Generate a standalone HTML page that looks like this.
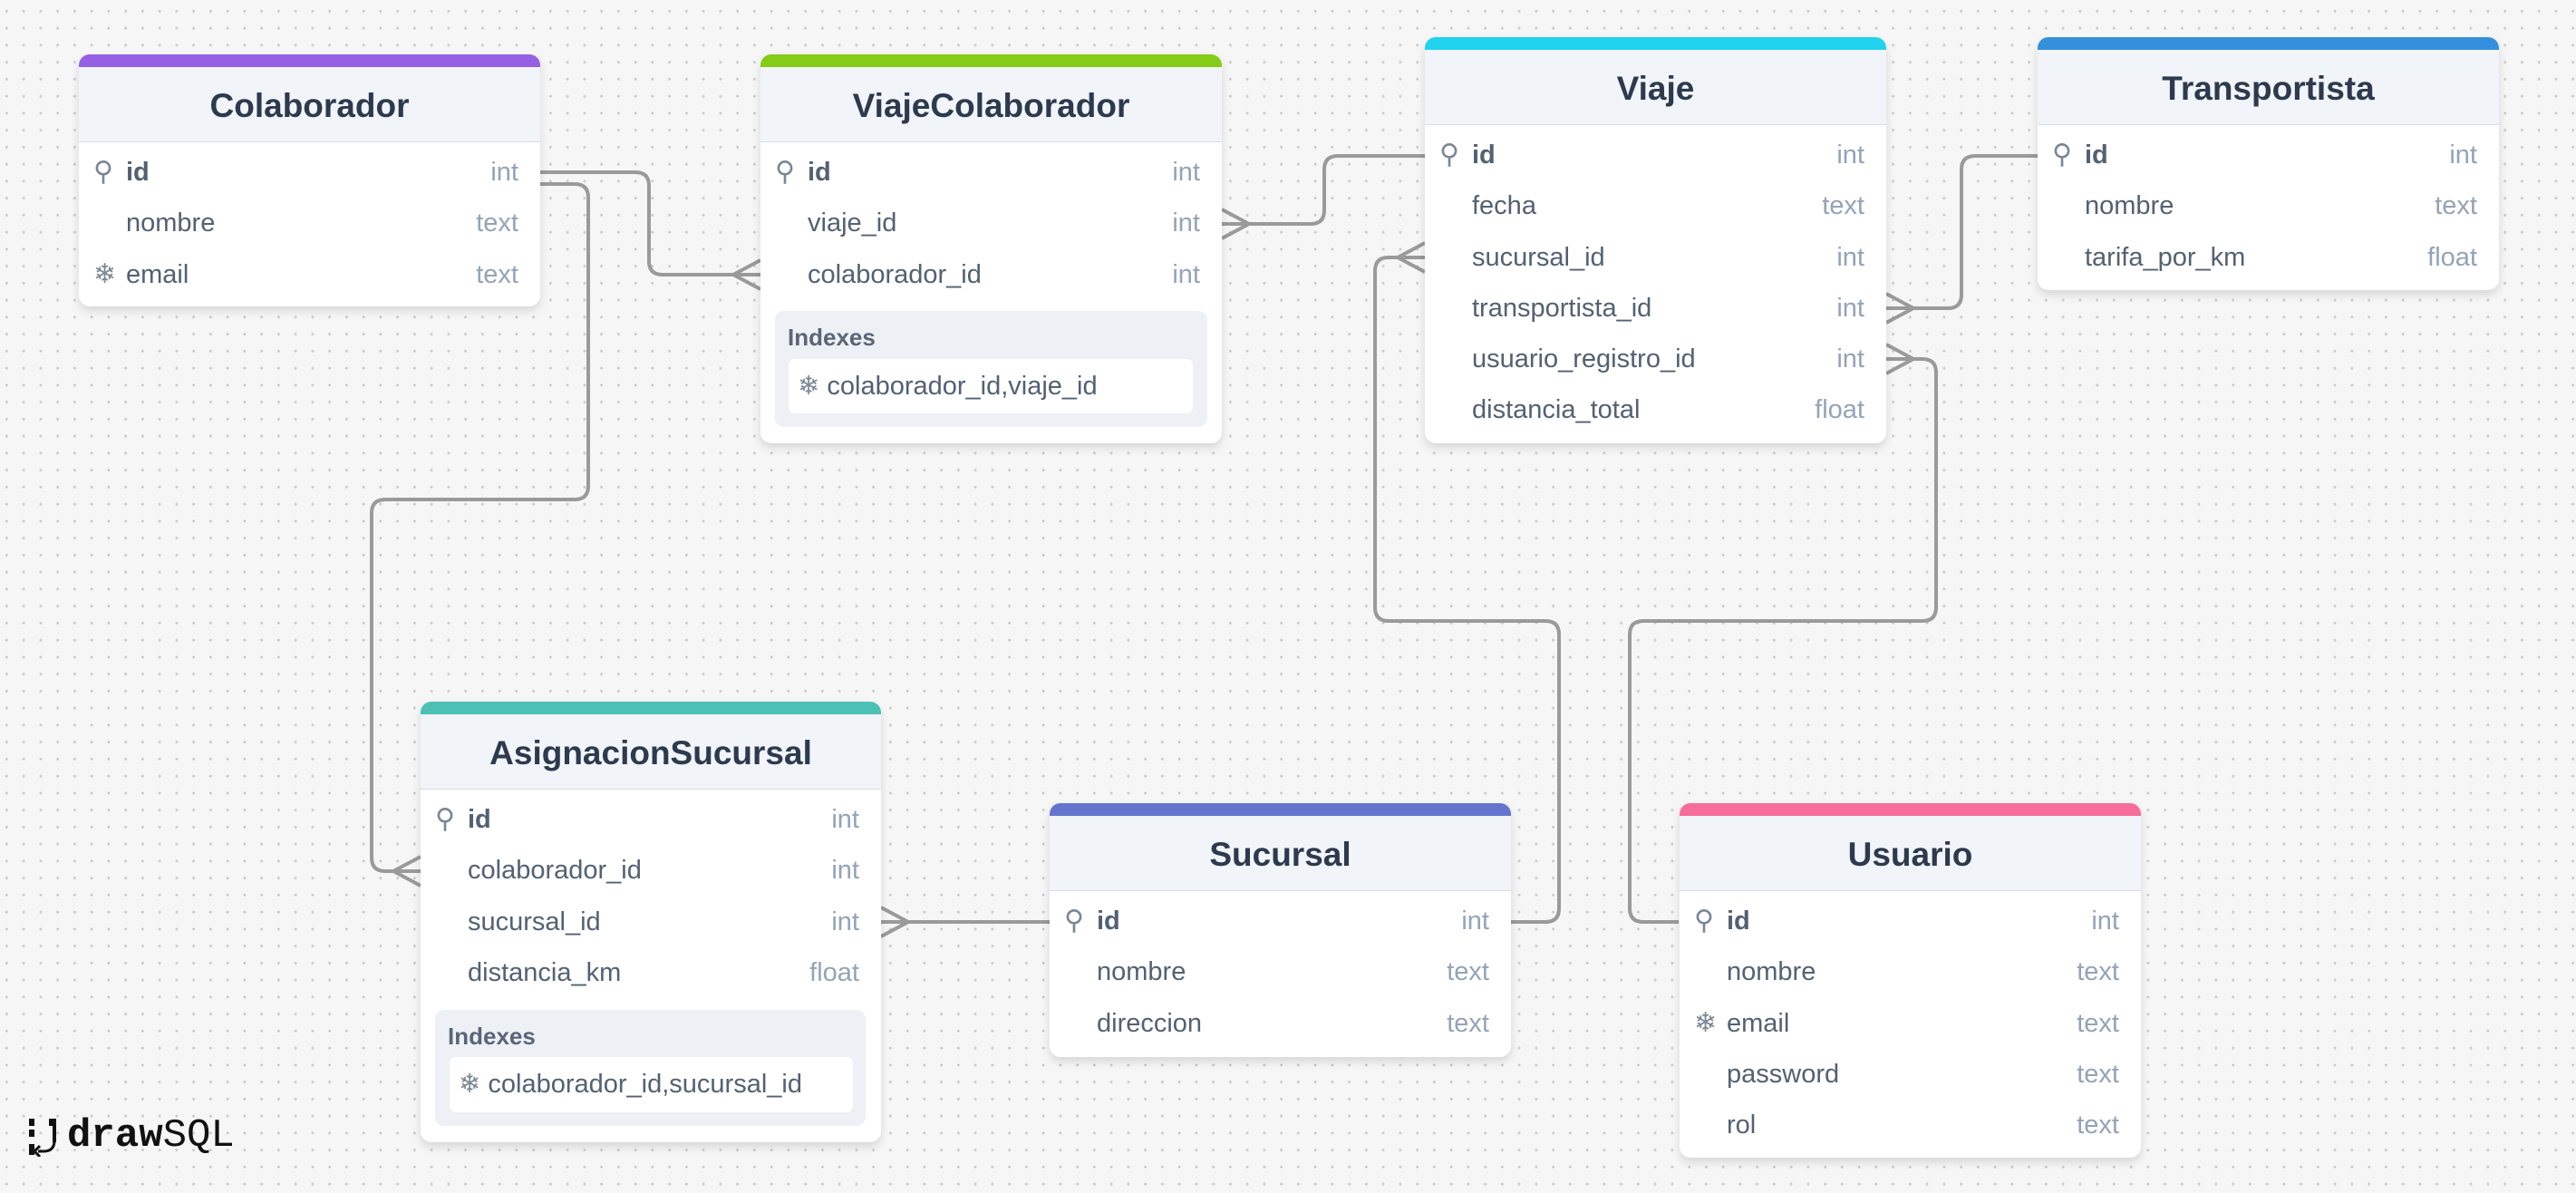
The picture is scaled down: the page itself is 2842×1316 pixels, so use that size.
<!DOCTYPE html>
<html><head><meta charset="utf-8">
<style>
html,body{margin:0;padding:0}
body{width:2842px;height:1316px;position:relative;overflow:hidden;background-color:#f6f6f6;
background-image:radial-gradient(circle,#c9c9c9 1.3px,transparent 1.6px);background-size:18.75px 18.75px;background-position:-2px 3px;
font-family:"Liberation Sans",sans-serif;}
.t{position:absolute;background:#fff;border-radius:12px;box-shadow:0 5px 10px rgba(0,0,0,0.13);overflow:hidden}
.bar{height:14px}
.hd{height:82px;background:#f1f4f9;border-bottom:1.5px solid #d3dde9;text-align:center;font-weight:bold;font-size:37px;color:#2d3a4e;line-height:86px}
.body{padding-top:5px}
.r{height:56.3px;position:relative;font-size:29px;color:#536173;line-height:56px}
.r .n{position:absolute;left:52px}
.r .ty{position:absolute;right:24px;color:#94a3b8}
.r .ic{position:absolute;left:16px;font-size:30px;color:#7b8794}
.b{font-weight:bold}
.idx{position:absolute;background:#edf1f5;border-radius:10px}
.idx .h{position:absolute;left:14px;top:14px;font-size:26px;font-weight:bold;color:#5a6678}
.idx .w{position:absolute;background:#fff;border-radius:7px;font-size:29px;color:#536173;line-height:60px;padding-left:10px;white-space:nowrap}
svg{position:absolute;left:0;top:0}
</style></head><body>
<svg width="2842" height="1316" fill="none" stroke="#9a9a9a" stroke-width="4">
<path d="M596,190 H701 Q716,190 716,205 V288 Q716,303 731,303 H839 M809,303 L839,287 M809,303 L839,319"/>
<path d="M596,203 H634 Q649,203 649,218 V536 Q649,551 634,551 H425 Q410,551 410,566 V946 Q410,961 425,961 H464 M434,961 L464,945 M434,961 L464,977"/>
<path d="M1348,247 H1446 Q1461,247 1461,232 V187 Q1461,172 1476,172 H1572 M1378,247 L1348,231 M1378,247 L1348,263"/>
<path d="M1572,284 H1532 Q1517,284 1517,299 V670 Q1517,685 1532,685 H1705 Q1720,685 1720,700 V1002 Q1720,1017 1705,1017 H1667 M1542,284 L1572,268 M1542,284 L1572,300"/>
<path d="M2081,340 H2149 Q2164,340 2164,325 V187 Q2164,172 2179,172 H2248 M2111,340 L2081,324 M2111,340 L2081,356"/>
<path d="M2081,396 H2121 Q2136,396 2136,411 V670 Q2136,685 2121,685 H1813 Q1798,685 1798,700 V1002 Q1798,1017 1813,1017 H1852 M2111,396 L2081,380 M2111,396 L2081,412"/>
<path d="M972,1017 H1158 M1002,1017 L972,1001 M1002,1017 L972,1033"/>
</svg>

<div class="t" style="left:87px;top:60px;width:509px;height:278px">
<div class="bar" style="background:#9561e2"></div><div class="hd">Colaborador</div>
<div class="body">
<div class="r"><span class="ic">⚲</span><span class="n b">id</span><span class="ty">int</span></div>
<div class="r"><span class="n">nombre</span><span class="ty">text</span></div>
<div class="r"><span class="ic">❄</span><span class="n">email</span><span class="ty">text</span></div>
</div></div>

<div class="t" style="left:839px;top:60px;width:509px;height:429px">
<div class="bar" style="background:#84cc16"></div><div class="hd">ViajeColaborador</div>
<div class="body">
<div class="r"><span class="ic">⚲</span><span class="n b">id</span><span class="ty">int</span></div>
<div class="r"><span class="n">viaje_id</span><span class="ty">int</span></div>
<div class="r"><span class="n">colaborador_id</span><span class="ty">int</span></div>
</div>
<div class="idx" style="left:16px;top:283px;width:477px;height:128px"><div class="h">Indexes</div>
<div class="w" style="left:15px;top:53px;width:436px;height:60px"><span style="color:#7b8794">❄</span> colaborador_id,viaje_id</div></div>
</div>

<div class="t" style="left:1572px;top:41px;width:509px;height:448px">
<div class="bar" style="background:#22d3ee"></div><div class="hd">Viaje</div>
<div class="body">
<div class="r"><span class="ic">⚲</span><span class="n b">id</span><span class="ty">int</span></div>
<div class="r"><span class="n">fecha</span><span class="ty">text</span></div>
<div class="r"><span class="n">sucursal_id</span><span class="ty">int</span></div>
<div class="r"><span class="n">transportista_id</span><span class="ty">int</span></div>
<div class="r"><span class="n">usuario_registro_id</span><span class="ty">int</span></div>
<div class="r"><span class="n">distancia_total</span><span class="ty">float</span></div>
</div></div>

<div class="t" style="left:2248px;top:41px;width:509px;height:279px">
<div class="bar" style="background:#3490dc"></div><div class="hd">Transportista</div>
<div class="body">
<div class="r"><span class="ic">⚲</span><span class="n b">id</span><span class="ty">int</span></div>
<div class="r"><span class="n">nombre</span><span class="ty">text</span></div>
<div class="r"><span class="n">tarifa_por_km</span><span class="ty">float</span></div>
</div></div>

<div class="t" style="left:464px;top:774px;width:508px;height:486px">
<div class="bar" style="background:#4dc0b5"></div><div class="hd">AsignacionSucursal</div>
<div class="body">
<div class="r"><span class="ic">⚲</span><span class="n b">id</span><span class="ty">int</span></div>
<div class="r"><span class="n">colaborador_id</span><span class="ty">int</span></div>
<div class="r"><span class="n">sucursal_id</span><span class="ty">int</span></div>
<div class="r"><span class="n">distancia_km</span><span class="ty">float</span></div>
</div>
<div class="idx" style="left:16px;top:340px;width:475px;height:128px"><div class="h">Indexes</div>
<div class="w" style="left:16px;top:52px;width:435px;height:61px"><span style="color:#7b8794">❄</span> colaborador_id,sucursal_id</div></div>
</div>

<div class="t" style="left:1158px;top:886px;width:509px;height:280px">
<div class="bar" style="background:#6574cd"></div><div class="hd">Sucursal</div>
<div class="body">
<div class="r"><span class="ic">⚲</span><span class="n b">id</span><span class="ty">int</span></div>
<div class="r"><span class="n">nombre</span><span class="ty">text</span></div>
<div class="r"><span class="n">direccion</span><span class="ty">text</span></div>
</div></div>

<div class="t" style="left:1853px;top:886px;width:509px;height:391px">
<div class="bar" style="background:#f66d9b"></div><div class="hd">Usuario</div>
<div class="body">
<div class="r"><span class="ic">⚲</span><span class="n b">id</span><span class="ty">int</span></div>
<div class="r"><span class="n">nombre</span><span class="ty">text</span></div>
<div class="r"><span class="ic">❄</span><span class="n">email</span><span class="ty">text</span></div>
<div class="r"><span class="n">password</span><span class="ty">text</span></div>
<div class="r"><span class="n">rol</span><span class="ty">text</span></div>
</div></div>

<svg style="left:30px;top:1232px" width="40" height="44" viewBox="0 0 40 44" fill="#111" stroke="none">
<rect x="2" y="2" width="6" height="8"/><rect x="2" y="14" width="6" height="8"/><rect x="2" y="30" width="6" height="12"/>
<rect x="24" y="2" width="8" height="8"/><rect x="28" y="10" width="4" height="18"/>
<path d="M30,26 Q30,38 18,38 L12,38" stroke="#111" stroke-width="3" fill="none"/>
<path d="M14,32 L8,38 L14,44" stroke="#111" stroke-width="3" fill="none"/>
</svg>
<div style="position:absolute;left:74px;top:1230px;height:46px;white-space:nowrap;font-family:'Liberation Mono',monospace;font-size:44px;line-height:46px;color:#111"><span style="font-weight:bold">draw</span><span>SQL</span></div>
</body></html>
